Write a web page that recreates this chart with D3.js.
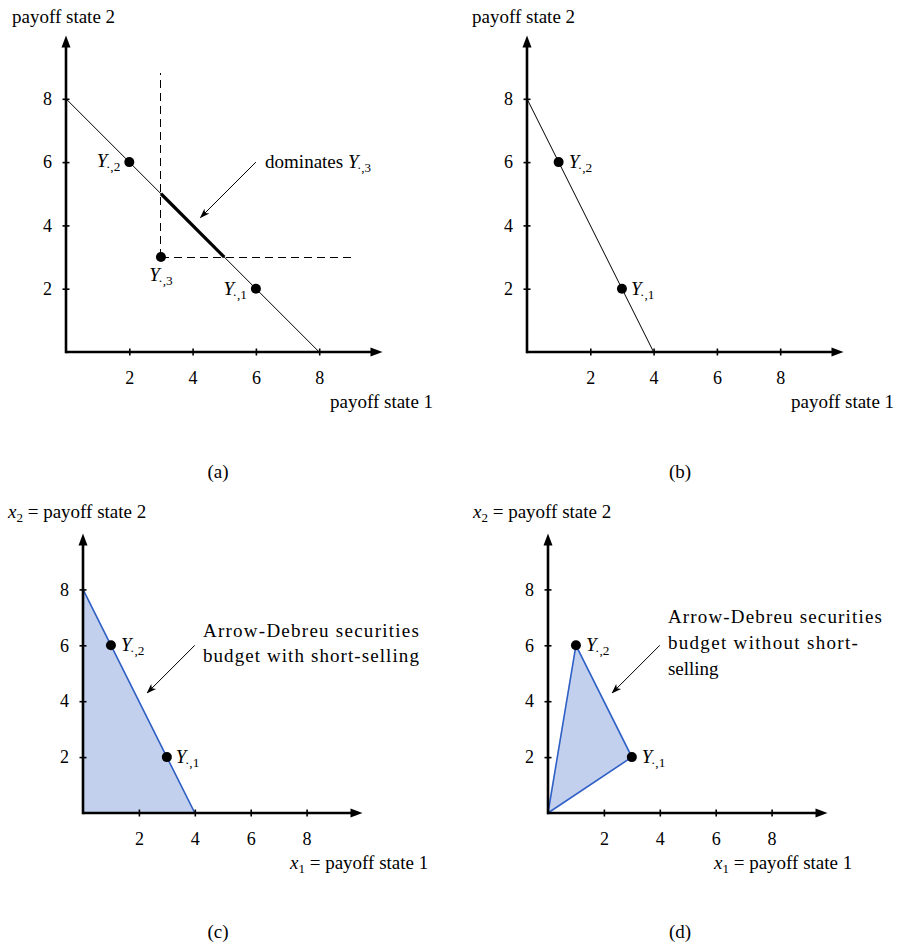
<!DOCTYPE html>
<html>
<head>
<meta charset="utf-8">
<script src="https://cdn.jsdelivr.net/npm/d3@7"></script>
<style>
  body { margin: 0; background: #fff; }
  text { font-family: "Liberation Serif", "Times New Roman", serif; fill: #000; }
</style>
</head>
<body>
<svg id="plot"></svg>
<script>
// values
const tickValues = [2, 4, 6, 8];
const axisMax = 10;

const budgetA = [[0, 8], [8, 0]];
const dominantA = [[3, 5], [5, 3]];
const dashVA = [[3, 3], [3, 8.8]];
const dashHA = [[3, 3], [9, 3]];
const pointsA = [{ k: "2", x: 2, y: 6 }, { k: "3", x: 3, y: 3 }, { k: "1", x: 6, y: 2 }];

const budgetB = [[0, 8], [4, 0]];
const pointsB = [{ k: "2", x: 1, y: 6 }, { k: "1", x: 3, y: 2 }];

const regionC = [[0, 0], [0, 8], [4, 0]];
const pointsC = [{ k: "2", x: 1, y: 6 }, { k: "1", x: 3, y: 2 }];

const regionD = [[0, 0], [1, 6], [3, 2]];
const pointsD = [{ k: "2", x: 1, y: 6 }, { k: "1", x: 3, y: 2 }];

const arrowA = [[6, 6], [4.25, 4.25]];
const arrowC = [[4, 6], [2.3, 4.3]];
const arrowD = [[4, 6], [2.3, 4.3]];

const textA = ["dominates "];
const textC = ["Arrow-Debreu securities", "budget with short-selling"];
const textD = ["Arrow-Debreu securities", "budget without short-", "selling"];

const width = 901, height = 947;
const fill = "#c2d0ee", blue = "#2f60c6";

let svg = d3.select("#plot").attr("width", width).attr("height", height);

let defs = svg.append("defs");
defs.append("marker")
    .attr("id", "ahead")
    .attr("viewBox", "0 -5 10 10")
    .attr("refX", 9).attr("refY", 0)
    .attr("markerUnits", "userSpaceOnUse")
    .attr("markerWidth", 10).attr("markerHeight", 10)
    .attr("orient", "auto")
    .append("path")
    .attr("d", "M0,-3.5L10,0L0,3.5L2.5,0Z")
    .attr("fill", "#000");

function makePanel(ox, oy, unit) {
    let x = d3.scaleLinear().domain([0, axisMax]).range([ox, ox + axisMax * unit]);
    let y = d3.scaleLinear().domain([0, axisMax]).range([oy, oy - axisMax * unit]);
    let g = svg.append("g");
    return { x, y, g };
}

function drawAxes(p) {
    let { x, y, g } = p;
    let xa = g.append("g")
        .attr("transform", `translate(0, ${y(0)})`)
        .call(d3.axisBottom(x).tickValues(tickValues).tickFormat(d3.format("d")).tickSizeOuter(0));
    xa.select(".domain").remove();
    xa.selectAll(".tick line").attr("y1", -3.5).attr("y2", 3.5).attr("stroke-width", 1.6);
    xa.selectAll(".tick text").attr("y", 19).attr("font-size", 18)
        .style("font-family", "Liberation Serif");

    let ya = g.append("g")
        .attr("transform", `translate(${x(0)}, 0)`)
        .call(d3.axisLeft(y).tickValues(tickValues).tickFormat(d3.format("d")).tickSizeOuter(0));
    ya.select(".domain").remove();
    ya.selectAll(".tick line").attr("x1", -3.5).attr("x2", 3.5).attr("stroke-width", 1.6);
    ya.selectAll(".tick text").attr("x", -14).attr("font-size", 18)
        .style("font-family", "Liberation Serif");

    // axis lines with filled arrow heads
    let ah = 12;
    g.append("line")
        .attr("x1", x(0)).attr("y1", y(0))
        .attr("x2", x(axisMax) - ah + 1).attr("y2", y(0))
        .attr("stroke", "#000").attr("stroke-width", 2.6);
    g.append("path")
        .attr("d", `M${x(axisMax)},${y(0)}L${x(axisMax) - ah},${y(0) - 4.5}L${x(axisMax) - ah},${y(0) + 4.5}Z`)
        .attr("fill", "#000");
    g.append("line")
        .attr("x1", x(0)).attr("y1", y(0) + 1.3)
        .attr("x2", x(0)).attr("y2", y(axisMax) + ah - 1)
        .attr("stroke", "#000").attr("stroke-width", 2.6);
    g.append("path")
        .attr("d", `M${x(0)},${y(axisMax)}L${x(0) - 4.5},${y(axisMax) + ah}L${x(0) + 4.5},${y(axisMax) + ah}Z`)
        .attr("fill", "#000");
}

function lineOf(p) {
    return d3.line().x(d => p.x(d[0])).y(d => p.y(d[1]));
}

function yLabel(sel, k, fs) {
    sel.append("tspan").attr("font-style", "italic").attr("font-size", fs).text("Y");
    sel.append("tspan").attr("font-size", fs * 0.7).attr("dx", -1.5).attr("dy", 4).text("\u00b7,");
    sel.append("tspan").attr("font-size", fs * 0.7).text(k);
}

function drawPoints(p, pts, places) {
    pts.forEach((d, i) => {
        p.g.append("circle")
            .attr("cx", p.x(d.x)).attr("cy", p.y(d.y))
            .attr("r", 5).attr("fill", "#000");
        let pl = places[i];
        let t = p.g.append("text")
            .attr("x", p.x(d.x) + pl[0]).attr("y", p.y(d.y) + pl[1])
            .attr("text-anchor", pl[2]);
        yLabel(t, d.k, 19);
    });
}

function drawArrow(p, a) {
    p.g.append("path")
        .attr("d", lineOf(p)(a))
        .attr("stroke", "#000").attr("stroke-width", 1)
        .attr("fill", "none")
        .attr("marker-end", "url(#ahead)");
}

function axisTitles(p, top, bottom, tx, ty, bx, by) {
    [[top, tx, ty], [bottom, bx, by]].forEach(([lab, lx, ly]) => {
        let t = p.g.append("text").attr("x", lx).attr("y", ly).attr("font-size", 19);
        if (lab.v) {
            t.append("tspan").attr("font-style", "italic").text("x");
            t.append("tspan").attr("font-size", 13).attr("dy", 4).text(lab.v);
            t.append("tspan").attr("dy", -4).text(" = " + lab.s);
        } else {
            t.text(lab.s);
        }
    });
}

function caption(cx, cy, s) {
    svg.append("text").attr("x", cx).attr("y", cy)
        .attr("text-anchor", "middle").attr("font-size", 19).text(s);
}

// ---- panel (a)
let pa = makePanel(66, 352, 31.65);
pa.g.append("path").attr("d", lineOf(pa)(dashVA))
    .attr("stroke", "#000").attr("stroke-width", 1).attr("stroke-dasharray", "8,5")
    .attr("shape-rendering", "crispEdges").attr("fill", "none");
pa.g.append("path").attr("d", lineOf(pa)(dashHA))
    .attr("stroke", "#000").attr("stroke-width", 1).attr("stroke-dasharray", "8,5")
    .attr("shape-rendering", "crispEdges").attr("fill", "none");
pa.g.append("path").attr("d", lineOf(pa)(budgetA))
    .attr("stroke", "#000").attr("stroke-width", 1).attr("fill", "none");
pa.g.append("path").attr("d", lineOf(pa)(dominantA))
    .attr("stroke", "#000").attr("stroke-width", 3.2).attr("fill", "none");
drawAxes(pa);
drawPoints(pa, pointsA, [[-9, 5, "end"], [0, 24, "middle"], [-9, 6, "end"]]);
drawArrow(pa, arrowA);
let ta = pa.g.append("text").attr("x", pa.x(6.29)).attr("y", pa.y(5.82)).attr("font-size", 19);
ta.append("tspan").text(textA[0]);
ta.append("tspan").attr("font-style", "italic").text("Y");
ta.append("tspan").attr("font-size", 13).attr("dx", -1.5).attr("dy", 4).text("\u00b7,3");
axisTitles(pa, { s: "payoff state 2" }, { s: "payoff state 1" }, 12, 23, 330, 408);
caption(218, 478, "(a)");

// ---- panel (b)
let pb = makePanel(527, 352, 31.65);
pb.g.append("path").attr("d", lineOf(pb)(budgetB))
    .attr("stroke", "#000").attr("stroke-width", 1).attr("fill", "none");
drawAxes(pb);
drawPoints(pb, pointsB, [[10, 6, "start"], [9, 6, "start"]]);
axisTitles(pb, { s: "payoff state 2" }, { s: "payoff state 1" }, 472, 23, 791, 408);
caption(680, 478, "(b)");

// ---- panel (c)
let pc = makePanel(83, 813, 27.95);
pc.g.append("path").attr("d", lineOf(pc)(regionC) + "Z")
    .attr("fill", fill).attr("stroke", blue).attr("stroke-width", 1.6);
drawAxes(pc);
drawPoints(pc, pointsC, [[10, 6, "start"], [9, 6, "start"]]);
drawArrow(pc, arrowC);
textC.forEach((s, i) => {
    pc.g.append("text").attr("x", pc.x(4.29)).attr("y", pc.y(6.3) + i * 25)
        .attr("font-size", 19).attr("textLength", 216).attr("lengthAdjust", "spacing").text(s);
});
axisTitles(pc, { v: "2", s: "payoff state 2" }, { v: "1", s: "payoff state 1" }, 8, 518, 290, 869);
caption(218, 938, "(c)");

// ---- panel (d)
let pd = makePanel(548, 813, 27.95);
pd.g.append("path").attr("d", lineOf(pd)(regionD) + "Z")
    .attr("fill", fill).attr("stroke", blue).attr("stroke-width", 1.6);
drawAxes(pd);
drawPoints(pd, pointsD, [[10, 6, "start"], [10, 6, "start"]]);
drawArrow(pd, arrowD);
textD.forEach((s, i) => {
    let t = pd.g.append("text").attr("x", pd.x(4.29)).attr("y", pd.y(6.8) + i * 26)
        .attr("font-size", 19).text(s);
    if (i < 2) t.attr("textLength", i === 0 ? 214 : 190).attr("lengthAdjust", "spacing");
});
axisTitles(pd, { v: "2", s: "payoff state 2" }, { v: "1", s: "payoff state 1" }, 473, 518, 714, 869);
caption(680, 938, "(d)");
</script>
</body>
</html>
